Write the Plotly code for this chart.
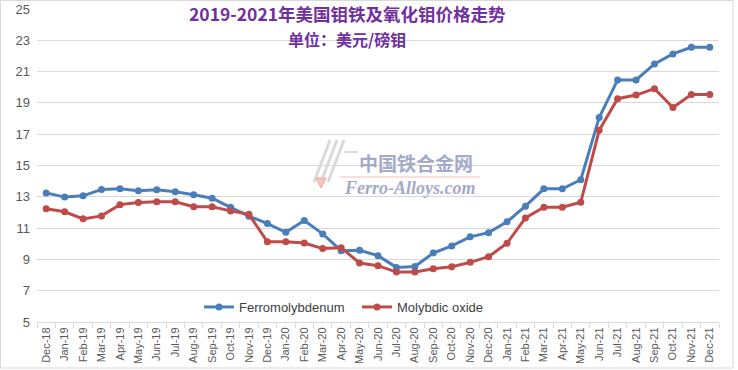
import plotly.graph_objects as go

months = ["Dec-18","Jan-19","Feb-19","Mar-19","Apr-19","May-19","Jun-19","Jul-19","Aug-19","Sep-19","Oct-19","Nov-19",
          "Dec-19","Jan-20","Feb-20","Mar-20","Apr-20","May-20","Jun-20","Jul-20","Aug-20","Sep-20","Oct-20","Nov-20",
          "Dec-20","Jan-21","Feb-21","Mar-21","Apr-21","May-21","Jun-21","Jul-21","Aug-21","Sep-21","Oct-21","Nov-21","Dec-21"]

ferromolybdenum = [13.25,12.98,13.06,13.47,13.51,13.38,13.45,13.32,13.13,12.91,12.33,11.76,
                   11.29,10.73,11.48,10.63,9.56,9.58,9.24,8.49,8.55,9.41,9.86,10.44,
                   10.71,11.40,12.40,13.51,13.51,14.09,18.06,20.47,20.47,21.49,22.13,22.55,22.55]

molybdic_oxide = [12.23,12.04,11.59,11.78,12.50,12.63,12.68,12.68,12.36,12.36,12.10,11.88,
                  10.12,10.12,10.05,9.69,9.75,8.77,8.60,8.19,8.19,8.40,8.53,8.81,
                  9.17,10.03,11.65,12.33,12.33,12.65,17.25,19.27,19.50,19.91,18.70,19.53,19.53]

y_ticks = [5,7,9,11,13,15,17,19,21,23,25]

title = "2019-2021年美国钼铁及氧化钼价格走势"
subtitle = "单位：美元/磅钼"

W, H = 738, 370
ml, mr, mt, mb = 37, 19, 9, 48
pw, ph = W - ml - mr, H - mt - mb

def px(x):
    return (x - ml) / pw

def py(y):
    return (H - mb - y) / ph

fig = go.Figure()
fig.add_trace(go.Scatter(x=months, y=ferromolybdenum, name="Ferromolybdenum", mode="lines+markers",
                         line=dict(color="#4A7EBB", width=3), marker=dict(size=7, color="#4A7EBB")))
fig.add_trace(go.Scatter(x=months, y=molybdic_oxide, name="Molybdic oxide", mode="lines+markers",
                         line=dict(color="#BE4B48", width=3), marker=dict(size=7, color="#BE4B48")))

fig.update_layout(
    width=W, height=H,
    margin=dict(l=ml, r=mr, t=mt, b=mb, autoexpand=False),
    paper_bgcolor="white", plot_bgcolor="white",
    font=dict(family="Liberation Sans, Arial, sans-serif", color="#595959"),
    legend=dict(orientation="h", x=px(199), xanchor="left", y=py(307), yanchor="middle",
                font=dict(size=13, color="#404040"), bgcolor="rgba(0,0,0,0)",
                entrywidth=113, entrywidthmode="pixels"),
    showlegend=True,
)
fig.update_xaxes(type="category", tickangle=-90, tickfont=dict(size=11, color="#595959"),
                 showline=True, linecolor="#d9d9d9", linewidth=1, ticks="outside", tickson="boundaries",
                 ticklen=5, tickcolor="#d9d9d9", showgrid=False, range=[-0.5, len(months) - 0.5],
                 automargin=False)
fig.update_yaxes(range=[5, 25], tickvals=y_ticks, tickfont=dict(size=13, color="#595959"),
                 showgrid=True, gridcolor="#d9d9d9", gridwidth=1, zeroline=False, showline=False, ticks="",
                 ticklabelstandoff=6, automargin=False)

# title annotations
fig.add_annotation(text="<b>" + title + "</b>", xref="paper", yref="paper", x=px(347), y=py(14),
                   showarrow=False, font=dict(size=17.5, color="#7030A0", family="Noto Sans CJK SC"),
                   xanchor="center", yanchor="middle")
fig.add_annotation(text="<b>" + subtitle + "</b>", xref="paper", yref="paper", x=px(347), y=py(39),
                   showarrow=False, font=dict(size=16, color="#7030A0", family="Noto Sans CJK SC"),
                   xanchor="center", yanchor="middle")

# watermark
fig.add_annotation(text="<b>中国铁合金网</b>", xref="paper", yref="paper", x=px(416.5), y=py(163),
                   showarrow=False, font=dict(size=19, color="#A3AACA", family="Noto Sans CJK SC"),
                   xanchor="center", yanchor="middle")
fig.add_annotation(text="<b><i>Ferro-Alloys.com</i></b>", xref="paper", yref="paper", x=px(409.5), y=py(188),
                   showarrow=False, font=dict(size=18, color="#A3AACA", family="Liberation Serif, serif"),
                   xanchor="center", yanchor="middle")
fig.add_shape(type="line", xref="paper", yref="paper", x0=px(340), x1=px(480), y0=py(177), y1=py(177),
              line=dict(color="#F2C0B8", width=1))
# logo strokes
for dx in (0, 7, 14):
    fig.add_shape(type="line", xref="paper", yref="paper", x0=px(314 + dx), y0=py(182), x1=px(330 + dx), y1=py(140),
                  line=dict(color="#DADADA", width=3))
fig.add_shape(type="line", xref="paper", yref="paper", x0=px(344), y0=py(152), x1=px(358), y1=py(152),
              line=dict(color="#DADADA", width=2))
fig.add_shape(type="path", xref="paper", yref="paper",
              path=f"M {px(316)},{py(178)} L {px(326)},{py(178)} L {px(321)},{py(188)} Z",
              fillcolor="#F4C6BC", line=dict(color="#E8A898", width=1))

# outer border
fig.add_shape(type="rect", xref="paper", yref="paper", x0=px(0.5), x1=px(733), y0=py(368), y1=py(0.5),
              line=dict(color="#d9d9d9", width=1), layer="below")

fig.write_html("out.html", config={"displayModeBar": False},
               post_script="document.body.style.margin='0';")
